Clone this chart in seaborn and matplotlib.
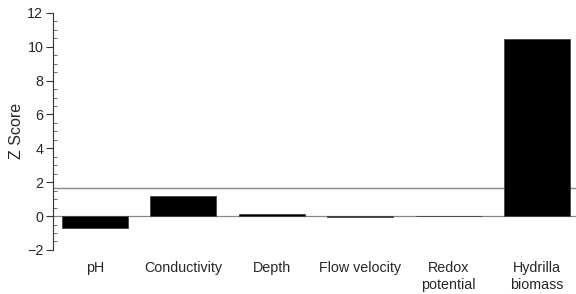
import seaborn as sns
import matplotlib.pyplot as plt
from matplotlib.ticker import MultipleLocator
import pandas as pd

variables = ["pH", "Conductivity", "Depth", "Flow velocity", "Redox\npotential", "Hydrilla\nbiomass"]
z_scores = [-0.71, 1.21, 0.12, -0.05, 0.03, 10.48]
critical_z = 1.645

sns.set_style("white")
plt.rcParams["font.family"] = ["Liberation Sans", "DejaVu Sans"]

df = pd.DataFrame({"variable": variables, "z": z_scores})

fig = plt.figure(figsize=(5.76, 2.94), dpi=100)
ax = fig.add_axes([0.092, 0.15, 0.908, 0.806])

sns.barplot(data=df, x="variable", y="z", color="black", saturation=1,
            width=0.745, edgecolor="#444444", linewidth=0.6, ax=ax)

ax.axhline(0, color="#888888", linewidth=0.9, zorder=0)
ax.axhline(critical_z, color="#888888", linewidth=1.0, zorder=0)

ax.set_ylim(-2, 12)
ax.set_xlim(-0.475, 5.44)
ax.yaxis.set_major_locator(MultipleLocator(2))
ax.yaxis.set_minor_locator(MultipleLocator(0.5))
ax.tick_params(axis="y", which="major", direction="out", length=5, width=0.8,
               color="#333333", labelsize=10.3, pad=2, left=True)
ax.tick_params(axis="y", which="minor", direction="in", length=3, width=0.6,
               color="#555555", left=True)
ax.tick_params(axis="x", length=0, labelsize=10.3, pad=8)
for lbl in ax.get_xticklabels():
    lbl.set_linespacing(1.3)

ax.set_xlabel("")
ax.set_ylabel("Z Score", fontsize=11.5, labelpad=2)

sns.despine(ax=ax, top=True, right=True, bottom=True)
ax.spines["left"].set_color("#333333")
ax.spines["left"].set_linewidth(0.8)

fig.savefig("out.png", dpi=100)
